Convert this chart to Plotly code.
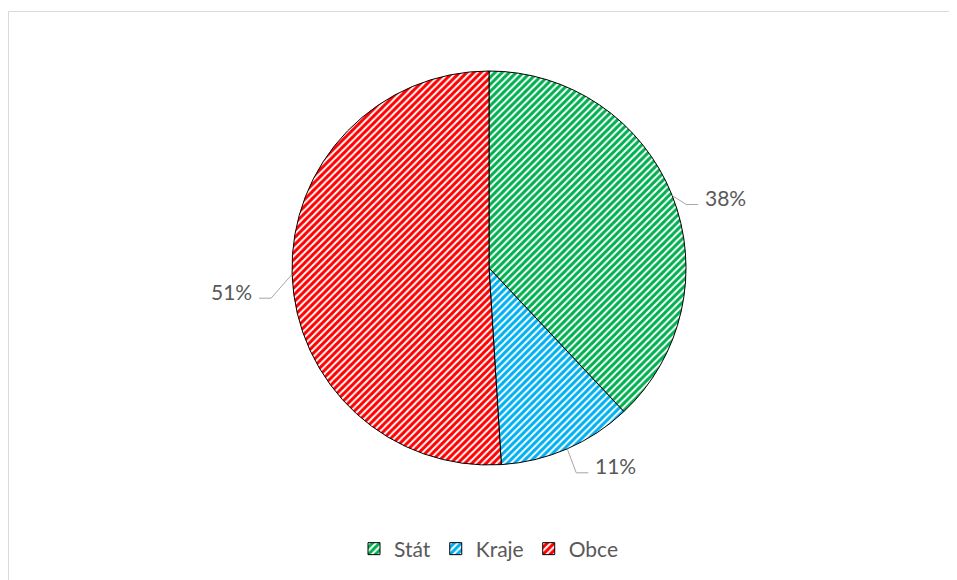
import math
import plotly.graph_objects as go

# ---- data ----
categories = ["Stát", "Kraje", "Obce"]
values = [38, 11, 51]
colors = ["#00B050", "#00B0F0", "#FF0000"]

# ---- layout constants (screen pixels; page body has an 8px margin) ----
OFF = 8
W, H = 957 - OFF, 580 - OFF
CX, CY, R = 489, 268, 197
FONT = "Lato"
TXT = "#595959"
# leader-line elbow offsets (px) from the slice edge point, and label side
elbow_off = [(14, 9), (9, 24), (-21, 24)]
label_side = [1, 1, -1]
HSEG = 12
GAP = 5


def px(x):
    return (x - OFF) / W


def py(y):
    return 1 - (y - OFF) / H


fig = go.Figure()
fig.add_trace(go.Pie(
    labels=categories,
    values=values,
    sort=False,
    direction="clockwise",
    rotation=0,
    textinfo="none",
    hoverinfo="label+percent",
    marker=dict(
        colors=colors,
        line=dict(color="#000000", width=1),
        pattern=dict(shape="/", fgcolor=colors, bgcolor="#FFFFFF",
                     size=5, solidity=0.6, fillmode="replace"),
    ),
    domain=dict(x=[px(CX - R), px(CX + R)], y=[py(CY + R), py(CY - R)]),
))

border = dict(color="#D9D9D9", width=1)
shapes = [
    dict(type="line", xref="paper", yref="paper",
         x0=px(8.5), y0=py(11.5), x1=1, y1=py(11.5), line=border),
    dict(type="line", xref="paper", yref="paper",
         x0=px(8.5), y0=py(11.5), x1=px(8.5), y1=0, line=border),
]
annotations = []
total = sum(values)
cum = 0
for i, v in enumerate(values):
    mid = (cum + v / 2) / total * 2 * math.pi
    cum += v
    sx = CX + R * math.sin(mid)
    sy = CY - R * math.cos(mid)
    ex = sx + elbow_off[i][0]
    ey = sy + elbow_off[i][1]
    hx = ex + label_side[i] * HSEG
    shapes.append(dict(type="path", xref="paper", yref="paper",
                       path=f"M {px(sx)},{py(sy)} L {px(ex)},{py(ey)} L {px(hx)},{py(ey)}",
                       line=dict(color="#A6A6A6", width=1)))
    pct = round(v / total * 100)
    annotations.append(dict(
        xref="paper", yref="paper",
        x=px(hx + label_side[i] * GAP), y=py(ey - 7),
        xanchor="left" if label_side[i] > 0 else "right", yanchor="middle",
        text=f"{pct}%", showarrow=False,
        font=dict(family=FONT, size=21, color=TXT),
    ))

fig.update_layout(
    width=W, height=H,
    margin=dict(l=0, r=0, t=0, b=0),
    paper_bgcolor="#FFFFFF",
    plot_bgcolor="#FFFFFF",
    showlegend=True,
    legend=dict(orientation="h", x=px(489), xanchor="center", y=py(549), yanchor="middle",
                font=dict(family=FONT, size=21, color=TXT),
                itemwidth=30, traceorder="normal"),
    shapes=shapes,
    annotations=annotations,
)

fig.write_html("out.html")
